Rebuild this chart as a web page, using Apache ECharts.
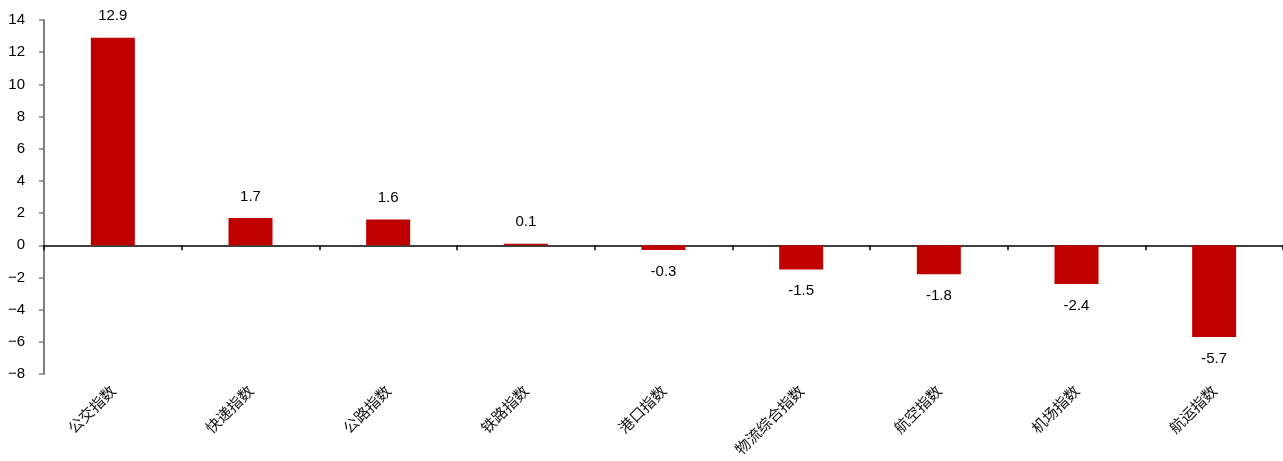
<!DOCTYPE html>
<html>
<head>
<meta charset="utf-8">
<script src="https://cdn.jsdelivr.net/npm/echarts@6/dist/echarts.min.js"></script>
<style>
  html, body { margin: 0; padding: 0; background: #fff; }
  #chart { width: 1283px; height: 461px; }
</style>
</head>
<body>
<div id="chart"></div>
<script>
// 分类与数值
var categories = ['公交指数', '快递指数', '公路指数', '铁路指数', '港口指数', '物流综合指数', '航空指数', '机场指数', '航运指数'];
var values = [12.9, 1.7, 1.6, 0.1, -0.3, -1.5, -1.8, -2.4, -5.7];
var yMin = -8;
var yMax = 14;
var yStep = 2;

var barData = values.map(function (v) {
  return { value: v, label: { position: v < 0 ? 'bottom' : 'top' } };
});

var chart = echarts.init(document.getElementById('chart'));
chart.setOption({
  animation: false,
  grid: { left: 44, right: 0, top: 20, bottom: 87, containLabel: false },
  xAxis: [{
    type: 'category',
    data: categories,
    axisLine: { onZero: true, lineStyle: { color: '#000', width: 1.5 } },
    axisTick: { show: true, length: 5, lineStyle: { color: '#000', width: 1.5 } },
    axisLabel: { show: false }
  }, {
    type: 'category',
    data: categories,
    position: 'bottom',
    axisLine: { show: false, onZero: false },
    axisTick: { show: false },
    axisLabel: {
      rotate: 45,
      margin: 14,
      interval: 0,
      color: '#111',
      fontSize: 15,
      fontFamily: 'Noto Sans CJK SC'
    }
  }],
  yAxis: {
    type: 'value',
    min: yMin,
    max: yMax,
    interval: yStep,
    axisLine: { show: true, lineStyle: { color: '#808080', width: 2 } },
    axisTick: { show: true, length: 5, lineStyle: { color: '#808080', width: 1.5 } },
    splitLine: { show: false },
    axisLabel: {
      color: '#000',
      fontSize: 15,
      fontFamily: 'Liberation Sans',
      margin: 19,
      formatter: function (v) {
        return v < 0 ? '\u2212' + Math.abs(v) : String(v);
      }
    }
  },
  series: [{
    type: 'bar',
    xAxisIndex: 0,
    data: barData,
    barWidth: 44,
    itemStyle: { color: '#C00000' },
    label: {
      show: true,
      distance: 14,
      color: '#000',
      fontSize: 15,
      fontFamily: 'Liberation Sans',
      formatter: function (p) {
        return p.value.toFixed(1);
      }
    }
  }]
});
</script>
</body>
</html>
